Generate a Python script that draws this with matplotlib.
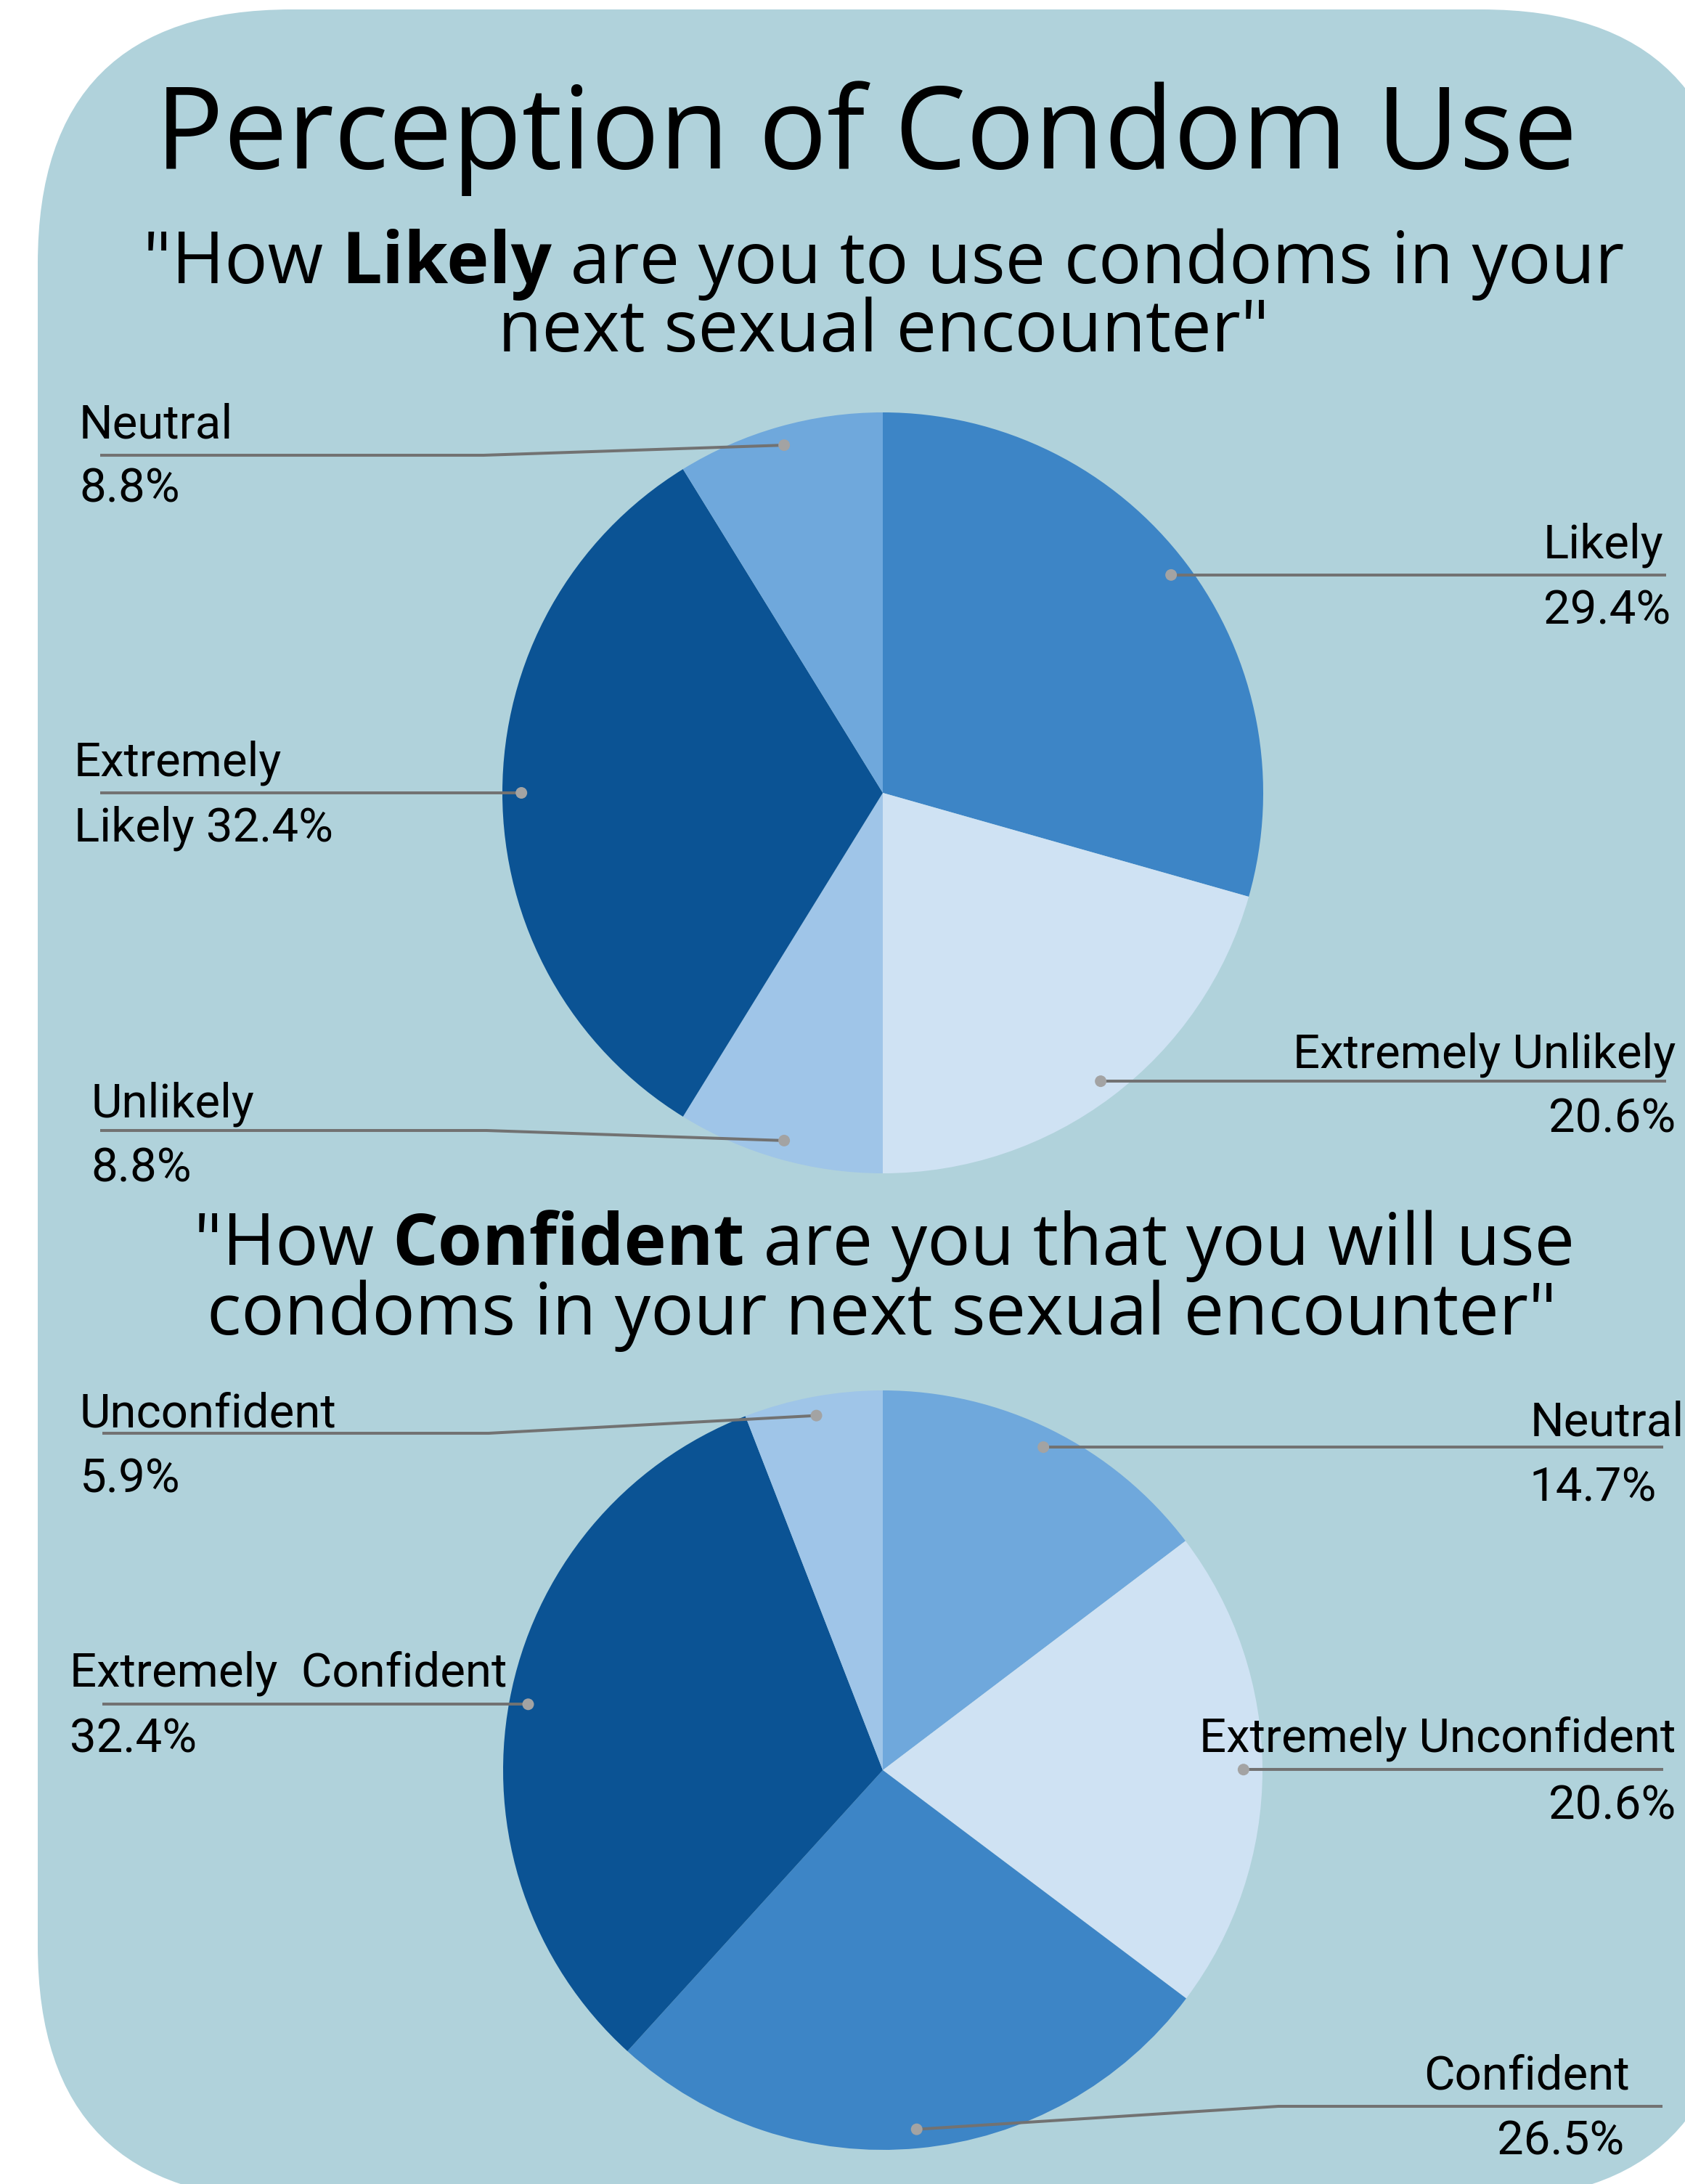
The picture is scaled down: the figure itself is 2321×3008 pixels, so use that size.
import numpy as np
import matplotlib.pyplot as plt
from matplotlib.patches import FancyBboxPatch, Circle

W, H = 2321, 3008
DPI = 100

# data
likely_labels = ['Likely', 'Extremely Unlikely', 'Unlikely', 'Extremely Likely', 'Neutral']
likely_values = [29.4, 20.6, 8.8, 32.4, 8.8]
likely_colors = ['#3d85c6', '#cfe2f3', '#9fc5e8', '#0b5394', '#6fa8dc']

confident_labels = ['Neutral', 'Extremely Unconfident', 'Confident', 'Extremely Confident', 'Unconfident']
confident_values = [14.7, 20.6, 26.5, 32.4, 5.9]
confident_colors = ['#6fa8dc', '#cfe2f3', '#3d85c6', '#0b5394', '#9fc5e8']

title = 'Perception of Condom Use'
q1 = [['"How ', ('Likely', 'bold'), ' are you to use condoms in your'],
      ['next sexual encounter"']]
q2 = [['"How ', ('Confident', 'bold'), ' are you that you will use'],
      ['condoms in your next sexual encounter"']]

BG = '#b0d2db'
LINE = '#727272'
DOT = '#a3a3a3'
HEAD_FONT = 'Open Sans'
LAB_FONT = 'Roboto'

fig = plt.figure(figsize=(W / DPI, H / DPI), dpi=DPI)
fig.patch.set_facecolor('white')
ax = fig.add_axes([0, 0, 1, 1])
renderer = fig.canvas.get_renderer()


def Y(v):
    return H - v


def fit(s, target, family, weight='normal'):
    t = ax.text(0, 0, s, fontsize=100, family=family, fontweight=weight)
    w = t.get_window_extent(renderer).width
    t.remove()
    return 100 * target / w


def centered(parts, xc, yb, fs):
    objs = []
    for p in parts:
        s, wt = (p, 'normal') if isinstance(p, str) else p
        objs.append(ax.text(0, Y(yb), s, fontsize=fs, family=HEAD_FONT,
                            fontweight=wt, va='baseline', ha='left', color='black'))
    widths = [o.get_window_extent(renderer).width for o in objs]
    x = xc - sum(widths) / 2
    for o, w in zip(objs, widths):
        o.set_x(x)
        x += w


# background card
ax.add_patch(FancyBboxPatch((52, Y(3030)), 2390 - 52, 3030 - 13,
                            boxstyle='round,pad=0,rounding_size=350',
                            fc=BG, ec='none', zorder=0))

# titles
fs_title = fit(title, 1960, HEAD_FONT)
ax.text(1193, Y(232), title, fontsize=fs_title, family=HEAD_FONT,
        ha='center', va='baseline', color='black')

fs_q = (fit('"How Likely are you to use condoms in your', 2005, HEAD_FONT)
        + fit('"How Confident are you that you will use', 1877, HEAD_FONT)) / 2
centered(q1[0], 1217, 390, fs_q)
centered(q1[1], 1217, 484, fs_q)
centered(q2[0], 1218, 1742, fs_q)
centered(q2[1], 1215, 1838, fs_q)

fs_lab = fit('Extremely Unconfident', 638, LAB_FONT) * 1.03

# label layout: (line1, line2, x1, base1, x2, base2, ha, elbow, end_x)
likely_layout = {
    'Likely': ('Likely', '29.4%', 2126, 769, 2126, 859, 'left', None, 2295),
    'Extremely Unlikely': ('Extremely Unlikely', '20.6%', 2308, 1471, 2308, 1559, 'right', None, 2295),
    'Unlikely': ('Unlikely', '8.8%', 125, 1538, 125, 1627, 'left', (670, 1557), 138),
    'Extremely Likely': ('Extremely', 'Likely 32.4%', 102, 1069, 102, 1159, 'left', None, 138),
    'Neutral': ('Neutral', '8.8%', 109, 603, 109, 692, 'left', (666, 627), 138),
}
confident_layout = {
    'Neutral': ('Neutral', '14.7%', 2108, 1978, 2106, 2067, 'left', None, 2291),
    'Extremely Unconfident': ('Extremely Unconfident', '20.6%', 2308, 2413, 2308, 2505, 'right', None, 2291),
    'Confident': ('Confident', '26.5%', 1961, 2877, 2062, 2967, 'left', (1761, 2901), 2290),
    'Extremely Confident': ('Extremely  Confident', '32.4%', 96, 2323, 96, 2413, 'left', None, 141),
    'Unconfident': ('Unconfident', '5.9%', 109, 1966, 109, 2056, 'left', (673, 1974), 141),
}


def draw_pie(labels, values, colors, layout, cx, cy, R):
    wedges, _ = ax.pie(values, colors=colors, startangle=90, counterclock=False,
                       center=(cx, Y(cy)), radius=R,
                       wedgeprops=dict(linewidth=0, edgecolor='none'))
    for w, lab in zip(wedges, labels):
        mid = np.deg2rad((w.theta1 + w.theta2) / 2)
        dx = cx + 0.95 * R * np.cos(mid)
        dy = Y(cy) + 0.95 * R * np.sin(mid)
        l1, l2, x1, b1, x2, b2, ha, elbow, end_x = layout[lab]
        if elbow is None:
            xs, ys = [dx, end_x], [dy, dy]
        else:
            xs, ys = [dx, elbow[0], end_x], [dy, Y(elbow[1]), Y(elbow[1])]
        ax.plot(xs, ys, color=LINE, lw=2.9, solid_capstyle='butt', zorder=3)
        ax.add_patch(Circle((dx, dy), 8, fc=DOT, ec='none', zorder=4))
        ax.text(x1, Y(b1), l1, fontsize=fs_lab, family=LAB_FONT, ha=ha,
                va='baseline', color='black', zorder=5)
        ax.text(x2, Y(b2), l2, fontsize=fs_lab, family=LAB_FONT, ha=ha,
                va='baseline', color='black', zorder=5)


draw_pie(likely_labels, likely_values, likely_colors, likely_layout, 1216, 1092, 524)
draw_pie(confident_labels, confident_values, confident_colors, confident_layout, 1216, 2438, 523)

ax.set_xlim(0, W)
ax.set_ylim(0, H)
ax.set_aspect('auto')
ax.axis('off')

fig.savefig('out.png', dpi=DPI, facecolor='white')
